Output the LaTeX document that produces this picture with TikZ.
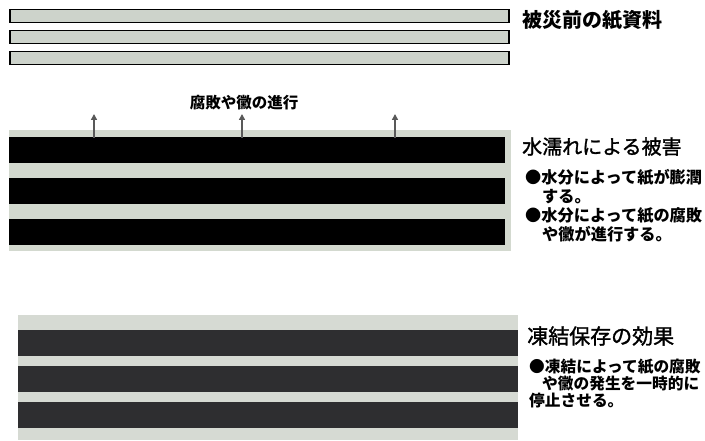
\documentclass[tikz,border=0pt]{standalone}
\usepackage{fontspec}
\newfontfamily\jp{Noto Sans CJK JP}
\newfontfamily\jpmed[FakeBold=1.4]{Noto Sans CJK JP}
\usetikzlibrary{arrows.meta}
\definecolor{paper}{HTML}{CDD3CB}
\definecolor{wetlight}{HTML}{D3D9CF}
\definecolor{frozlight}{HTML}{D6DAD3}
\definecolor{frozdark}{HTML}{2E2E30}
\tikzset{
  strip/.style={draw=black, line width=1.5pt, fill=paper, minimum width=499pt, minimum height=13pt, anchor=north west, inner sep=0pt},
  lightblock/.style={fill=#1, draw=none, anchor=north west, inner sep=0pt, minimum width=502pt},
  band/.style={fill=#1, draw=none, anchor=north west, inner sep=0pt, minimum height=26pt},
  bigtitle/.style={anchor=west, font=\jpmed\fontsize{20}{24}\selectfont, inner sep=0pt},
  bullets/.style={anchor=north west, align=left, inner sep=0pt},
  arr/.style={draw=black!65, line width=1.6pt, -{Triangle[length=6pt,width=6pt]}}
}
\begin{document}
\begin{tikzpicture}[x=1pt,y=-1pt]
\useasboundingbox (0,0) rectangle (705,441);
\fill[white] (0,0) rectangle (705,441);
% before disaster
\node[strip] (s1) at (9,9) {};
\node[strip] (s2) at (9,30) {};
\node[strip] (s3) at (9,51) {};
\node[bigtitle, font=\jp\bfseries\fontsize{20}{24}\selectfont] (t1) at (522,20) {被災前の紙資料};
% water damage
\node[lightblock=wetlight, minimum height=121pt] (wb) at (9,130) {};
\node[band=black, minimum width=496pt] (w1) at (9,137) {};
\node[band=black, minimum width=496pt] (w2) at (9,178) {};
\node[band=black, minimum width=496pt] (w3) at (9,219) {};
\node[font=\jp\bfseries\fontsize{15.5}{17}\selectfont, inner sep=0pt] (lab) at (244,102.5) {腐敗や黴の進行};
\coordinate (a1s) at (94,138); \coordinate (a1e) at (94,114);
\coordinate (a2s) at (242,138); \coordinate (a2e) at (242,114);
\coordinate (a3s) at (395,138); \coordinate (a3e) at (395,114);
\draw[arr] (a1s) -- (a1e);
\draw[arr] (a2s) -- (a2e);
\draw[arr] (a3s) -- (a3e);
\node[bigtitle] (t2) at (522,146.5) {水濡れによる被害};
\node[bullets, font=\jp\bfseries\fontsize{16.2}{19}\selectfont] (b2) at (525,169.5) {●水分によって紙が膨潤\\\hspace*{17pt}する。\\●水分によって紙の腐敗\\\hspace*{17pt}や黴が進行する。};
% frozen
\node[lightblock=frozlight, minimum height=125pt, minimum width=500pt] (fb) at (18,315) {};
\node[band=frozdark, minimum width=500pt] (f1) at (18,330) {};
\node[band=frozdark, minimum width=500pt] (f2) at (18,366) {};
\node[band=frozdark, minimum width=500pt] (f3) at (18,402) {};
\node[bigtitle, font=\jpmed\fontsize{21}{24}\selectfont] (t3) at (527,336) {凍結保存の効果};
\node[bullets, font=\jp\bfseries\fontsize{15.7}{17}\selectfont] (b3) at (529,359) {●凍結によって紙の腐敗\\\hspace*{13pt}や黴の発生を一時的に\\停止させる。};
\end{tikzpicture}
\end{document}
